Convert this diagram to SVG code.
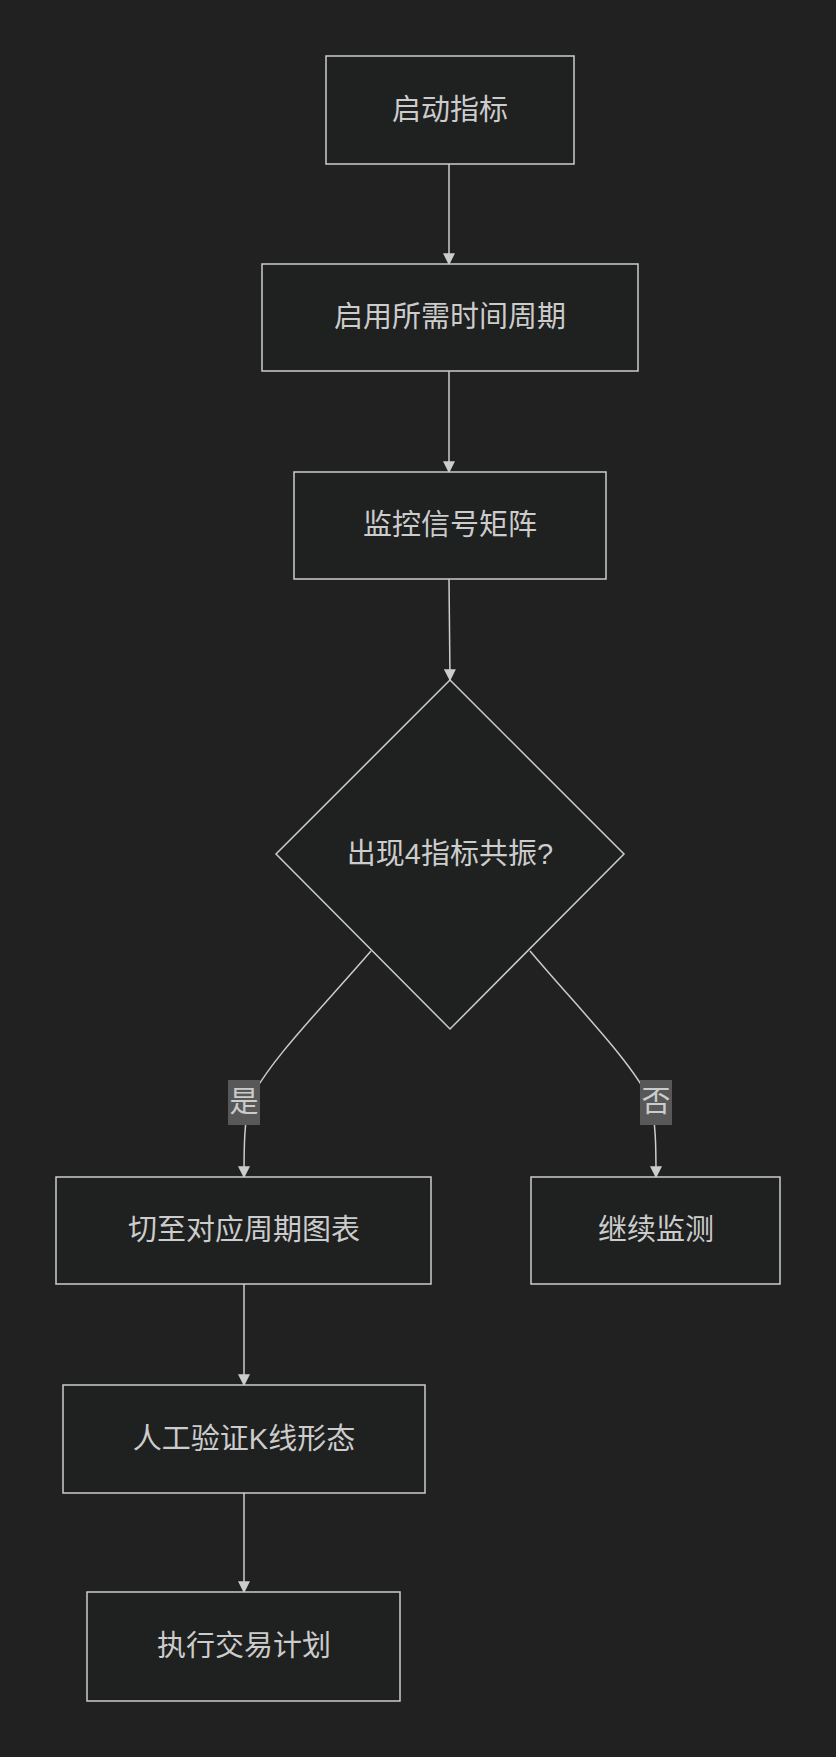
<svg xmlns="http://www.w3.org/2000/svg" width="836" height="1757" viewBox="0 0 836 1757">
<style>
.n{fill:#1f2020;stroke:#ccc;stroke-width:1.5}
.t{fill:#ccc;font-family:"Liberation Sans","Noto Sans CJK SC",sans-serif;font-size:29px;text-anchor:middle;dominant-baseline:central}
.e{fill:none;stroke:#ccc;stroke-width:1.5;marker-end:url(#a)}
.lb{fill:#585858}
</style>
<defs><marker id="a" viewBox="0 0 10 10" refX="9" refY="5" markerWidth="8" markerHeight="8" orient="auto"><path d="M0,0L10,5L0,10z" fill="#ccc"/></marker></defs>
<rect width="836" height="1757" fill="#212121"/>
<g id="edges">
<path class="e" d="M449,164V264"/>
<path class="e" d="M449,371V472"/>
<path class="e" d="M449,579Q449,600 450,680"/>
<path class="e" d="M371,951C320,1010 270,1060 250,1100C244,1120 244,1150 244,1177"/>
<path class="e" d="M530,951C580,1010 630,1060 650,1100C656,1120 656,1150 656,1177"/>
<path class="e" d="M244,1284V1385"/>
<path class="e" d="M244,1493V1592"/>
<rect class="lb" x="228" y="1080" width="32" height="45"/>
<text class="t" x="244" y="1102" font-size="26">是</text>
<rect class="lb" x="640" y="1080" width="32" height="45"/>
<text class="t" x="656" y="1102" font-size="26">否</text>
</g>
<g id="n1"><rect class="n" x="326" y="56" width="248" height="108"/><text class="t" x="450" y="110">启动指标</text></g>
<g id="n2"><rect class="n" x="262" y="264" width="376" height="107"/><text class="t" x="450" y="317">启用所需时间周期</text></g>
<g id="n3"><rect class="n" x="294" y="472" width="312" height="107"/><text class="t" x="450" y="525">监控信号矩阵</text></g>
<g id="n4"><polygon class="n" points="450,680 624,854 450,1029 276,854"/><text class="t" x="450" y="854">出现4指标共振?</text></g>
<g id="n5"><rect class="n" x="56" y="1177" width="375" height="107"/><text class="t" x="244" y="1230">切至对应周期图表</text></g>
<g id="n6"><rect class="n" x="531" y="1177" width="249" height="107"/><text class="t" x="656" y="1230">继续监测</text></g>
<g id="n7"><rect class="n" x="63" y="1385" width="362" height="108"/><text class="t" x="244" y="1439">人工验证K线形态</text></g>
<g id="n8"><rect class="n" x="87" y="1592" width="313" height="109"/><text class="t" x="244" y="1646">执行交易计划</text></g>
</svg>
